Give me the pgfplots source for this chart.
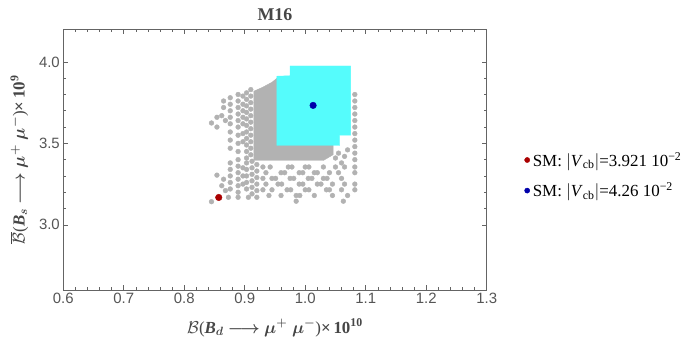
\documentclass[border=0pt]{standalone}
\usepackage{fontspec}
\usepackage{pgfplots}
\usepackage{bm}
\pgfplotsset{compat=1.18}
\setmainfont{Liberation Serif}
\newfontfamily\tickfont{Liberation Sans}
\definecolor{framecol}{RGB}{100,100,100}
\definecolor{tickcol}{RGB}{85,85,85}
\definecolor{labcol}{RGB}{70,70,70}
\definecolor{ptgray}{RGB}{178,178,178}
\definecolor{cyanfill}{RGB}{85,252,252}
\definecolor{smred}{RGB}{170,0,0}
\definecolor{smblue}{RGB}{0,0,170}
\begin{document}
\begin{tikzpicture}
\begin{axis}[
  scale only axis, width=423.4bp, height=260.7bp,
  xmin=0.6, xmax=1.3, ymin=2.6, ymax=4.2,
  xtick={0.6,0.7,0.8,0.9,1.0,1.1,1.2,1.3},
  ytick={3.0,3.5,4.0},
  minor x tick num=4, minor y tick num=4,
  tick align=inside, tick pos=both,
  xticklabel pos=bottom, yticklabel pos=left,
  major tick length=5bp, minor tick length=3bp,
  axis line style={framecol, line width=0.7pt},
  every tick/.style={framecol, line width=0.6pt},
  /pgf/number format/assume math mode=true,
  every tick label/.append style={font=\tickfont\fontsize{15}{17}\selectfont, text=tickcol},
  xticklabel style={/pgf/number format/fixed, /pgf/number format/fixed zerofill, /pgf/number format/precision=1},
  yticklabel style={/pgf/number format/fixed, /pgf/number format/fixed zerofill, /pgf/number format/precision=1},
  title={\textbf{M16}},
  title style={font=\fontsize{18}{20}\selectfont, text=labcol, yshift=-1bp},
  xlabel={$\mathcal{B}$(\textbf{\textit{B}}$_{\bm{d}}$ $\bm{\longrightarrow}$ $\bm{\mu^{+}\;\mu^{-}}$)\textbf{×\,10}\textsuperscript{\textbf{10}}},
  ylabel={$\overline{\mathcal{B}}$(\textbf{\textit{B}}$_{\bm{s}}$ $\bm{\longrightarrow}$ $\bm{\mu^{+}\;\mu^{-}}$)\textbf{×\,10}\textsuperscript{\textbf{9}}},
  label style={font=\fontsize{17}{19}\selectfont, text=labcol},
  xlabel style={yshift=-8bp},
  ylabel style={yshift=4bp},
  legend style={at={(1.082,0.44)}, anchor=west, draw=none, fill=none,
    font=\fontsize{17}{19}\selectfont, row sep=11bp,
    nodes={inner xsep=3bp}},
  legend cell align=left,
  legend image post style={mark size=2.6pt},
]
% scattered gray scan points
\addplot[only marks, mark=*, mark size=2.4pt, color=ptgray, forget plot] coordinates {
(0.845,3.625)(0.854,3.66)(0.854,3.60)(0.862,3.67)
(0.865,3.72)(0.865,3.76)(0.868,3.64)
(0.876,3.78)(0.876,3.74)(0.876,3.70)(0.876,3.66)(0.876,3.62)(0.876,3.57)(0.876,3.52)(0.876,3.47)
(0.889,3.80)(0.889,3.76)(0.889,3.72)(0.889,3.68)(0.889,3.64)(0.889,3.60)(0.889,3.55)(0.889,3.50)(0.889,3.45)
(0.897,3.79)(0.897,3.74)(0.897,3.70)(0.897,3.66)(0.897,3.62)(0.897,3.56)(0.897,3.51)
(0.903,3.81)(0.903,3.77)(0.903,3.73)(0.903,3.69)(0.903,3.65)(0.903,3.61)(0.903,3.57)(0.903,3.53)(0.903,3.49)(0.903,3.45)(0.903,3.41)
(0.910,3.83)(0.910,3.79)(0.910,3.75)(0.910,3.71)(0.910,3.67)(0.910,3.63)(0.910,3.59)(0.910,3.55)(0.910,3.51)(0.910,3.47)(0.910,3.43)
(0.854,3.305)(0.862,3.24)(0.865,3.28)(0.868,3.21)
(0.876,3.38)(0.876,3.34)(0.876,3.30)(0.876,3.26)(0.876,3.22)
(0.889,3.40)(0.889,3.36)(0.889,3.32)(0.889,3.28)(0.889,3.24)(0.889,3.20)
(0.897,3.35)(0.897,3.30)(0.897,3.25)
(0.903,3.38)(0.903,3.34)(0.903,3.30)(0.903,3.26)(0.903,3.22)
(0.912,3.39)(0.912,3.35)(0.912,3.31)(0.912,3.27)(0.912,3.23)(0.912,3.19)
(0.920,3.37)(0.920,3.33)(0.920,3.29)(0.920,3.25)(0.920,3.21)
(0.873,3.169)(0.889,3.169)(0.906,3.169)(0.920,3.169)(0.845,3.142)
(0.930,3.355)(0.942,3.355)(0.972,3.355)(0.978,3.355)(1.000,3.355)(1.006,3.355)(1.030,3.355)(1.050,3.355)(1.065,3.355)(1.082,3.355)
(0.935,3.32)(0.960,3.32)(0.966,3.32)(0.990,3.32)(0.996,3.32)(1.015,3.32)(1.020,3.32)(1.040,3.32)(1.055,3.32)(1.082,3.32)
(0.930,3.285)(0.945,3.285)(0.951,3.285)(0.975,3.285)(0.981,3.285)(1.005,3.285)(1.011,3.285)(1.030,3.285)(1.036,3.285)(1.060,3.285)
(0.935,3.25)(0.955,3.25)(0.961,3.25)(0.990,3.25)(0.996,3.25)(1.020,3.25)(1.026,3.25)(1.045,3.25)(1.065,3.25)(1.082,3.25)
(0.930,3.215)(0.945,3.215)(0.970,3.215)(0.976,3.215)(1.000,3.215)(1.006,3.215)(1.035,3.215)(1.040,3.215)(1.060,3.215)(1.082,3.215)
(0.940,3.18)(0.960,3.18)(0.985,3.18)(0.991,3.18)(1.015,3.18)(1.045,3.18)(1.070,3.18)
(0.985,3.145)(1.063,3.145)
(1.082,3.80)(1.082,3.76)(1.082,3.72)(1.082,3.68)(1.082,3.64)(1.082,3.60)(1.082,3.56)(1.082,3.52)(1.082,3.48)(1.082,3.44)(1.082,3.40)
(1.070,3.46)(1.065,3.42)(1.055,3.44)(1.050,3.41)(1.060,3.38)
};
% dense gray core of the scan
\addplot[sharp plot, fill=ptgray, draw=ptgray, forget plot] coordinates {
(0.915,3.395)(0.915,3.82)(0.930,3.845)(0.945,3.875)(0.955,3.905)(1.00,3.905)
(1.046,3.50)(1.046,3.43)(1.030,3.395)(0.915,3.395)
};
% cyan allowed region
\addplot[sharp plot, fill=cyanfill, draw=cyanfill, forget plot] coordinates {
(0.953,3.487)(0.953,3.912)(0.975,3.915)(0.975,3.975)(1.075,3.975)(1.075,3.55)
(1.057,3.55)(1.057,3.487)(0.953,3.487)
};
% SM points
\addplot[only marks, mark=*, mark size=3.3pt, color=smred] coordinates {(0.857,3.168)};
\addlegendentry{SM: $|$\textit{V}\textsubscript{cb}$|$=3.921 10\textsuperscript{−2}}
\addplot[only marks, mark=*, mark size=3.3pt, color=smblue] coordinates {(1.013,3.733)};
\addlegendentry{SM: $|$\textit{V}\textsubscript{cb}$|$=4.26 10\textsuperscript{−2}}
\end{axis}
\path ([shift={(-63.3bp,-62bp)}]current axis.south west) rectangle ([shift={(636.7bp,290bp)}]current axis.south west);
\end{tikzpicture}
\end{document}
